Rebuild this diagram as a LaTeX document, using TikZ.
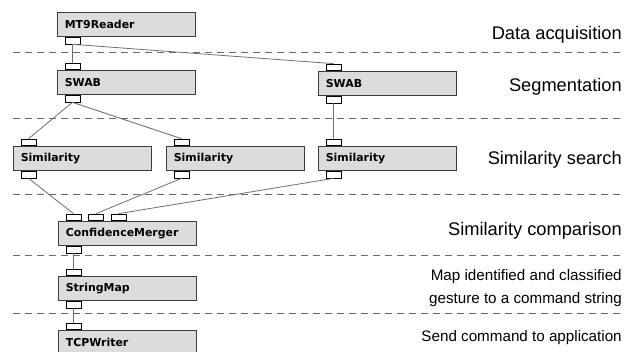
\documentclass[tikz,border=0pt]{standalone}
\usepackage{fontspec}
\setmainfont{Liberation Sans}
\newfontfamily\blockfont{DejaVu Sans}
\usetikzlibrary{calc}
\definecolor{blockfill}{HTML}{DCDCDC}
\definecolor{blockline}{HTML}{3C3C3C}
\definecolor{wireink}{HTML}{6E6E6E}
\definecolor{layerink}{HTML}{6A6A6A}

\begin{document}
\begin{tikzpicture}[x=0.75pt, y=-0.75pt,
                    block/.style={draw=blockline, fill=blockfill, line width=0.75pt,
                                  anchor=north west, minimum height=18pt,
                                  text width=92.5pt, inner xsep=5.5pt, align=left,
                                  font=\blockfont\bfseries\fontsize{8.2}{10}\selectfont},
                    port/.style={draw=black, fill=white, line width=0.6pt,
                                 minimum width=11.25pt, minimum height=4.9pt, inner sep=0pt},
                    wire/.style={wireink, line width=0.6pt},
                    layer/.style={layerink, line width=0.75pt, dash pattern=on 5.25pt off 3.75pt},
                    stage/.style={anchor=east, inner sep=0pt, font=\fontsize{13.7}{16}\selectfont},
                    substage/.style={anchor=east, inner sep=0pt, align=right,
                                     font=\fontsize{11.4}{17.25}\selectfont}]

  \useasboundingbox (0,0) rectangle (628,352);

  %% layer separators
  \foreach \y in {53,119,195,256,314}
    \draw[layer] (13,\y) -- (622,\y);

  %% blocks
  \node[block] (reader) at (57,12)  {MT9Reader};
  \node[block] (swabA)  at (57,70)  {SWAB};
  \node[block] (swabB)  at (318,71) {SWAB};
  \node[block] (simA)   at (13,146) {Similarity};
  \node[block] (simB)   at (166,146) {Similarity};
  \node[block] (simC)   at (318,146) {Similarity};
  \node[block] (merger) at (58,221) {ConfidenceMerger};
  \node[block] (map)    at (58,276) {StringMap};
  \node[block] (writer) at (58,330) {TCPWriter};

  %% ports
  \foreach \b in {reader,swabA,swabB,simA,simB,simC,merger,map}
    \node[port, anchor=north] (\b-out) at ($(\b.south west)+(15.5,0)$) {};
  \foreach \b in {swabA,swabB,simA,simB,simC,map,writer}
    \node[port, anchor=south] (\b-in) at ($(\b.north west)+(15.5,0)$) {};
  \foreach \i/\dx in {1/15.5,2/38,3/60.5}
    \node[port, anchor=south] (merger-in\i) at ($(merger.north west)+(\dx,0)$) {};

  %% connections
  \draw[wire] (reader-out.south) -- (swabA-in.north);
  \draw[wire] (reader-out.south) -- (swabB-in.north);
  \draw[wire] (swabA-out.south) -- (simA-in.north);
  \draw[wire] (swabA-out.south) -- (simB-in.north);
  \draw[wire] (swabB-out.south) -- (simC-in.north);
  \draw[wire] (simA-out.south) -- (merger-in1.north);
  \draw[wire] (simB-out.south) -- (merger-in2.north);
  \draw[wire] (simC-out.south) -- (merger-in3.north);
  \draw[wire] (merger-out.south) -- (map-in.north);
  \draw[wire] (map-out.south) -- (writer-in.north);

  %% stage labels
  \node[stage] (lblAcq)  at (622,35)  {Data acquisition};
  \node[stage] (lblSeg)  at (622,87)  {Segmentation};
  \node[stage] (lblSrch) at (622,160) {Similarity search};
  \node[stage] (lblCmp)  at (622,231) {Similarity comparison};
  \node[substage] (lblMap)  at (622,288.5) {Map identified and classified\\gesture to a command string};
  \node[substage] (lblSend) at (622,338) {Send command to application};

\end{tikzpicture}
\end{document}
